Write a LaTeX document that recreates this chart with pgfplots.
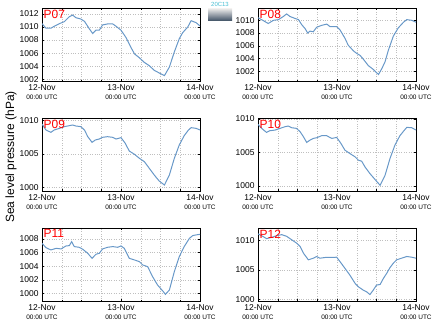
\documentclass[border=0pt]{standalone}
\usepackage{fontspec}
\setmainfont{Liberation Sans}
\usepackage{pgfplots}
\pgfplotsset{compat=1.18}
\definecolor{lineblue}{RGB}{104,152,200}
\definecolor{logocyan}{RGB}{70,190,210}
\definecolor{logodark}{RGB}{60,78,98}
\newcommand\tinylab{\fontsize{6.5}{7}\selectfont}
\tikzset{plab/.style={anchor=north west, text=red, font=\fontsize{12}{12}\selectfont, inner xsep=1.5bp, inner ysep=1.5bp}}
\pgfplotsset{
  panel/.style={
    scale only axis, width=158bp, height=73bp, anchor=south west,
    xmin=0, xmax=48,
    xtick={0,24,48}, minor xtick={6,12,18,30,36,42},
    xticklabels={{12-Nov\\{\tinylab 00:00 UTC}},{13-Nov\\{\tinylab 00:00 UTC}},{14-Nov\\{\tinylab 00:00 UTC}}},
    xticklabel style={align=center, font=\fontsize{8.5}{9}\selectfont},
    yticklabel style={font=\fontsize{8.5}{9}\selectfont},
    /pgf/number format/assume math mode=true,
    /pgf/number format/1000 sep={},
    grid=both,
    grid style={dotted, gray!50, line width=0.5pt},
    tick align=inside, major tick length=2bp, minor tick length=1.5bp,
    tick style={black, line width=0.5pt},
    axis line style={black, line width=0.7pt},
    every axis plot post/.append style={draw=lineblue, line width=1.0pt, mark=none},
  },
}
\begin{document}
\begin{tikzpicture}
\useasboundingbox (0,0) rectangle (434bp,327bp);
% P07
\begin{axis}[panel, at={(42bp,245.5bp)}, ymin=1001.7, ymax=1012.8, ytick={1002,1004,...,1012}]
\addplot coordinates {(0.0,1010.5)(1.2,1009.8)(2.7,1009.8)(3.7,1010.1)(5.3,1010.5)(6.8,1010.8)(8.3,1011.55)(9.3,1011.8)(10.3,1011.4)(11.8,1011.2)(12.9,1010.85)(14.4,1009.7)(15.4,1009.0)(16.4,1009.5)(17.4,1009.5)(18.4,1010.3)(19.9,1010.45)(21.5,1010.45)(22.5,1010.1)(24.0,1009.5)(25.5,1008.4)(27.0,1006.9)(28.1,1005.9)(29.6,1005.3)(31.1,1004.6)(32.6,1004.1)(34.1,1003.4)(35.6,1003.0)(37.2,1002.6)(38.7,1003.9)(40.2,1006.2)(41.7,1008.2)(42.7,1009.1)(44.3,1010.0)(45.3,1010.95)(46.8,1010.65)(48.0,1010.15)};
\node[plab] at (rel axis cs:0,1) {P07};
\end{axis}
% P08
\begin{axis}[panel, at={(258bp,245.5bp)}, ymin=1000.4, ymax=1011.85, ytick={1002,1004,...,1010}]
\addplot coordinates {(0,1010.4)(1.1,1010.1)(3.1,1009.5)(4.7,1010.0)(6.2,1010.1)(7.7,1010.6)(8.7,1011.0)(9.7,1010.6)(11.2,1010.3)(12.3,1010.1)(13.3,1009.3)(14.3,1008.7)(15.1,1008.0)(15.8,1008.3)(16.8,1008.2)(17.8,1008.9)(19.3,1009.2)(20.9,1009.4)(21.9,1009.0)(23.9,1009.0)(24.9,1008.5)(26.4,1007.2)(27.4,1006.1)(29.0,1005.2)(30.0,1004.8)(31.0,1004.5)(32.0,1003.9)(33.5,1002.9)(35.0,1002.3)(36.6,1001.5)(37.6,1002.4)(38.6,1003.5)(39.6,1005.3)(41.1,1007.5)(42.6,1008.8)(44.2,1009.7)(45.2,1010.1)(46.7,1010.0)(48,1009.7)};
\node[plab] at (rel axis cs:0,1) {P08};
\end{axis}
% P09
\begin{axis}[panel, at={(42bp,136bp)}, ymin=999.45, ymax=1010.4, ytick={1000,1005,1010}]
\addplot coordinates {(0,1009.5)(1.2,1008.6)(2.7,1008.25)(3.7,1008.6)(5.3,1008.85)(6.8,1009.1)(8.3,1009.25)(9.3,1009.35)(10.3,1009.2)(11.8,1009.1)(12.9,1008.6)(13.9,1007.6)(15.2,1006.75)(16.2,1007.1)(17.4,1007.25)(18.4,1007.5)(19.9,1007.6)(21.5,1007.5)(22.5,1007.25)(24.0,1007.45)(25.3,1006.6)(26.5,1005.45)(28.1,1004.95)(29.6,1004.35)(31.1,1003.85)(32.6,1002.85)(34.1,1001.85)(35.6,1000.95)(37.2,1000.35)(38.7,1001.85)(40.2,1004.35)(41.7,1006.35)(43.2,1007.75)(44.5,1008.6)(45.3,1008.95)(46.8,1008.85)(48,1008.6)};
\node[plab] at (rel axis cs:0,1) {P09};
\end{axis}
% P10
\begin{axis}[panel, at={(258bp,136bp)}, ymin=999.25, ymax=1010.15, ytick={1000,1005,1010}]
\addplot coordinates {(0,1009.2)(1.1,1008.6)(2.6,1008.0)(3.6,1008.25)(5.2,1008.35)(6.7,1008.6)(8.2,1008.85)(9.2,1008.95)(10.2,1008.7)(11.7,1008.6)(12.8,1008.1)(13.8,1007.35)(14.8,1006.5)(15.8,1006.85)(16.8,1007.1)(17.8,1007.2)(19.3,1007.5)(20.9,1007.5)(22.4,1007.1)(23.9,1007.25)(25.2,1006.35)(26.4,1005.35)(27.9,1004.85)(29.5,1004.35)(30.5,1003.85)(31.5,1003.7)(32.5,1002.85)(34.0,1001.85)(35.5,1001.0)(37.1,1000.1)(38.6,1001.6)(40.1,1004.1)(41.6,1006.1)(43.1,1007.5)(44.5,1008.35)(45.2,1008.75)(46.7,1008.7)(48,1008.35)};
\node[plab] at (rel axis cs:0,1) {P10};
\end{axis}
% P11
\begin{axis}[panel, at={(42bp,26bp)}, ymin=998.93, ymax=1009.6, ytick={1000,1002,...,1008}]
\addplot coordinates {(0,1007.37)(1.2,1006.73)(2.7,1006.39)(4.3,1006.63)(5.8,1006.54)(7.3,1006.98)(8.3,1007.02)(9.0,1007.61)(9.8,1006.88)(11.3,1006.78)(12.4,1006.49)(13.9,1005.9)(15.2,1005.17)(16.4,1005.76)(17.4,1005.9)(18.4,1006.54)(19.9,1006.78)(21.5,1006.88)(23.0,1006.78)(24.0,1006.98)(25.0,1006.63)(26.5,1005.17)(28.1,1004.93)(29.6,1004.68)(30.6,1004.2)(32.1,1003.95)(33.6,1002.49)(35.1,1001.27)(36.7,1000.39)(37.5,999.9)(38.7,1000.54)(40.2,1003.22)(41.7,1005.41)(43.2,1006.88)(44.8,1008.1)(45.8,1008.49)(46.8,1008.59)(48,1008.68)};
\node[plab] at (rel axis cs:0,1) {P11};
\end{axis}
% P12
\begin{axis}[panel, at={(258bp,26bp)}, ymin=999.7, ymax=1012.1, ytick={1000,1005,1010}]
\addplot coordinates {(0,1011.09)(1.1,1010.8)(2.6,1010.29)(4.1,1010.51)(5.7,1010.8)(7.2,1010.97)(8.7,1010.69)(10.2,1010.11)(11.7,1009.54)(12.8,1008.97)(13.8,1007.83)(15.3,1006.69)(16.8,1006.97)(17.8,1007.26)(18.8,1006.97)(20.4,1007.09)(21.9,1007.09)(23.9,1007.14)(24.9,1006.4)(26.4,1005.26)(27.9,1004.11)(29.5,1002.69)(30.5,1002.11)(32.0,1001.54)(33.0,1001.26)(34.0,1000.8)(35.0,1001.54)(36.0,1002.4)(37.1,1002.51)(38.1,1003.54)(39.1,1004.4)(40.1,1005.37)(41.1,1006.11)(42.1,1006.69)(43.6,1006.97)(45.2,1007.26)(46.7,1007.14)(48,1006.97)};
\node[plab] at (rel axis cs:0,1) {P12};
\end{axis}
% y label
\node[rotate=90, font=\fontsize{12}{12}\selectfont] at (11bp,170bp) {Sea level pressure (hPa)};
% small logo
\shade[top color=gray!20, bottom color=logodark] (208bp,306bp) rectangle (232bp,318bp);
\node[text=logocyan, font=\fontsize{6}{6}\selectfont, inner sep=0pt] at (220bp,322.5bp) {20C13};
\end{tikzpicture}
\end{document}
